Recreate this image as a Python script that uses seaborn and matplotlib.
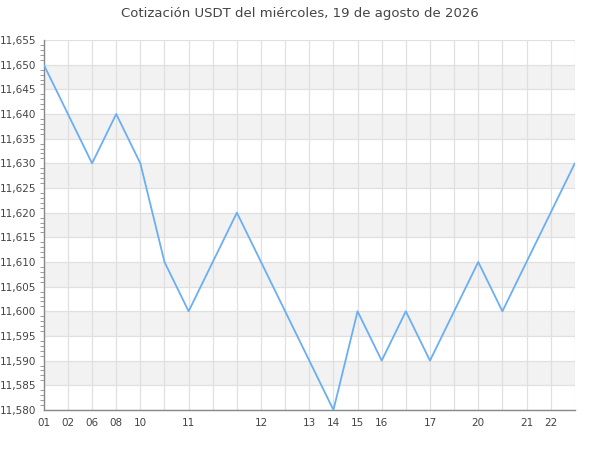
import matplotlib
matplotlib.use("Agg")
import matplotlib.pyplot as plt
import numpy as np
import pandas as pd
import seaborn as sns
from matplotlib.ticker import MultipleLocator, FuncFormatter

# datos
horas = ["01", "02", "06", "08", "10", "", "11", "", "", "12", "", "13",
         "14", "15", "16", "", "17", "", "20", "", "21", "22", ""]
precios = [11.650, 11.640, 11.630, 11.640, 11.630, 11.610, 11.600, 11.610,
           11.620, 11.610, 11.600, 11.590, 11.580, 11.600, 11.590, 11.600,
           11.590, 11.600, 11.610, 11.600, 11.610, 11.620, 11.630]
titulo = "Cotización USDT del miércoles, 19 de agosto de 2026"

datos = pd.DataFrame({"pos": np.arange(len(precios)), "precio": precios})

sns.set_style("white")
plt.rcParams["font.family"] = ["DejaVu Sans"]

fig = plt.figure(figsize=(6, 4.5), dpi=100)
ax = fig.add_axes([0.073, 0.089, 0.885, 0.822])

# bandas grises alternas
for y0 in np.arange(11.585, 11.650, 0.010):
    ax.axhspan(y0, y0 + 0.005, color="#f2f2f2", zorder=0, lw=0)

sns.lineplot(data=datos, x="pos", y="precio", color="#6aaef5", lw=1.3, ax=ax, zorder=3)

ax.set_xlim(0, len(precios) - 1)
ax.set_ylim(11.580, 11.655)
ax.set_xticks(datos["pos"])
ax.set_xticklabels(horas)
ax.yaxis.set_major_locator(MultipleLocator(0.005))
ax.yaxis.set_minor_locator(MultipleLocator(0.001))
ax.yaxis.set_major_formatter(FuncFormatter(lambda v, p: f"{v:.3f}".replace(".", ",")))

ax.grid(True, which="major", color="#e0e0e0", lw=0.9, zorder=1)
ax.set_axisbelow(True)
for s in ["top", "right"]:
    ax.spines[s].set_visible(False)
for s in ["left", "bottom"]:
    ax.spines[s].set_color("#888888")
    ax.spines[s].set_linewidth(1)

ax.tick_params(axis="y", which="major", length=5, color="#888888", labelsize=7.5, labelcolor="#444444", pad=0.5)
ax.tick_params(axis="y", which="minor", length=3, color="#888888", left=True)
ax.tick_params(axis="x", length=0, labelsize=7.5, labelcolor="#444444", pad=6)
ax.set_xlabel("")
ax.set_ylabel("")
fig.suptitle(titulo, fontsize=9.5, color="#444444", y=0.985)

fig.savefig("out.png", dpi=100)
